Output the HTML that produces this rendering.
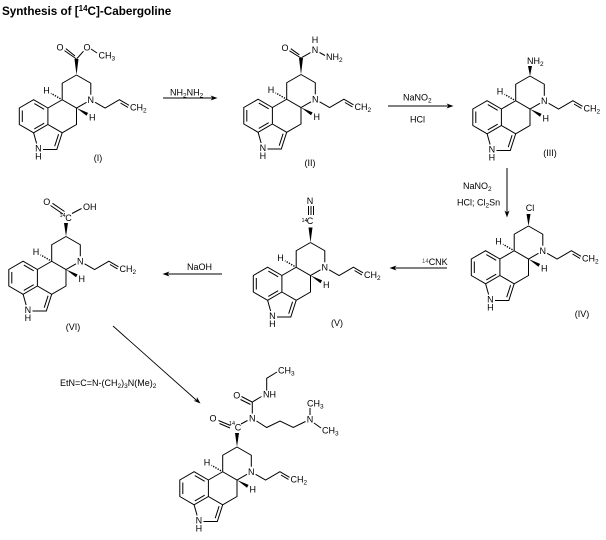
<!DOCTYPE html>
<html>
<head>
<meta charset="utf-8">
<style>
html,body{margin:0;padding:0;background:#fff;}
svg{display:block;}
text{font-family:"Liberation Sans",Arial,sans-serif;fill:#000;}
</style>
</head>
<body>
<svg width="606" height="540" viewBox="0 0 606 540" xmlns="http://www.w3.org/2000/svg" font-size="9">
<rect width="606" height="540" fill="#fff"/>
<defs>
<g id="core">
<g fill="none" stroke="#000" stroke-width="1">
<path d="M0,0 L14.3,8.25 L14.3,19.8 M10,27.3 L0,33 L-14.3,24.75 L-14.3,8.25 L0,0"/>
<path d="M0,33 L0,49.5 L-14.3,57.75 L-28.6,49.5 L-28.6,33 L-14.3,24.75"/>
<path d="M-28.6,33 L-42.9,24.75 L-57.2,33 L-57.2,49.5 L-42.9,57.75 L-28.6,49.5"/>
<path d="M-42.9,57.75 L-39.9,68.5 M-33.5,74.5 L-19.7,74.5 L-14.3,57.75"/>
<path d="M-32.3,34.35 L-42.2,28.6 M-54.2,35.5 L-54.2,47 M-42.2,53.9 L-32.3,48.15 M-17.9,59.2 L-21.8,71.2"/>
<path d="M18.6,27.3 L28.6,33 L42.9,24.75 L52.5,30.3 M44,28 L51.5,32.4"/>
<path d="M-16,23.8 L-25.5,18.3" stroke-dasharray="1.3,1.3" stroke-width="1.4"/>
</g>
<polygon points="0,33 11.6,37.9 10,40.7" fill="#000"/>
</g>
</defs>

<!-- Title -->
<text x="2" y="15" font-size="11.7" font-weight="bold">Synthesis of [<tspan font-size="8" dy="-4">14</tspan><tspan dy="4">C]-Cabergoline</tspan></text>

<!-- Compound I -->
<g transform="translate(76.5,75)">
<use href="#core"/>
<g text-anchor="middle">
<text x="14.3" y="28">N</text>
<text x="-30" y="18.5">H</text>
<text x="15.8" y="45.3">H</text>
<text x="-38.2" y="76.5">N</text>
<text x="-38.2" y="84.5">H</text>
<text x="-16.5" y="-24.3">O</text>
<text x="10.5" y="-24.3">O</text>
</g>
<text x="53.5" y="35.3">CH<tspan font-size="6.5" dy="2">2</tspan></text>
<polygon points="0,0 2,-16 -2,-16" fill="#000"/>
<path d="M0,-16 L-12,-24.4 M-1.5,-19 L-10.6,-26.4 M0.5,-16.5 L7,-23.8 M14.5,-26 L20.5,-22" stroke="#000" fill="none"/>
<text x="22" y="-16.5">CH<tspan font-size="6.5" dy="2">3</tspan></text>
</g>
<text x="98" y="161" text-anchor="middle">(I)</text>

<!-- Arrow NH2NH2 -->
<line x1="163" y1="98" x2="216" y2="98" stroke="#000"/>
<polygon points="217.5,98 210.5,95.5 212.5,98 210.5,100.5" fill="#000"/>
<text x="170" y="95.5">NH<tspan font-size="6.5" dy="2">2</tspan><tspan dy="-2">NH</tspan><tspan font-size="6.5" dy="2">2</tspan></text>

<!-- Compound II -->
<g transform="translate(301,74.5)">
<use href="#core"/>
<g text-anchor="middle">
<text x="14.3" y="28">N</text>
<text x="-30" y="18.5">H</text>
<text x="15.8" y="45.3">H</text>
<text x="-38.2" y="76.5">N</text>
<text x="-38.2" y="84.5">H</text>
<text x="-16" y="-23.3">O</text>
<text x="14" y="-21.3">N</text>
<text x="14" y="-31.3">H</text>
</g>
<text x="53.5" y="35.3">CH<tspan font-size="6.5" dy="2">2</tspan></text>
<polygon points="0,0 2,-16.5 -2,-16.5" fill="#000"/>
<path d="M0,-16.5 L-11.5,-23.7 M-1.7,-19.7 L-10.2,-25.8 M0.5,-16.8 L9.5,-21.9 M18.5,-22 L24,-19" stroke="#000" fill="none"/>
<text x="25" y="-14.5">NH<tspan font-size="6.5" dy="2">2</tspan></text>
</g>
<text x="310" y="166" text-anchor="middle">(II)</text>

<!-- Arrow NaNO2 HCl -->
<line x1="388" y1="106" x2="452" y2="106" stroke="#000"/>
<polygon points="453.5,106 446.5,103.5 448.5,106 446.5,108.5" fill="#000"/>
<text x="403" y="100.5">NaNO<tspan font-size="6.5" dy="2">2</tspan></text>
<text x="410" y="122.5">HCl</text>

<!-- Compound III -->
<g transform="translate(530,76)">
<use href="#core"/>
<g text-anchor="middle">
<text x="14.3" y="28">N</text>
<text x="-30" y="18.5">H</text>
<text x="15.8" y="45.3">H</text>
<text x="-38.2" y="76.5">N</text>
<text x="-38.2" y="84.5">H</text>
</g>
<text x="53.5" y="35.3">CH<tspan font-size="6.5" dy="2">2</tspan></text>
<polygon points="0,0 2,-10 -2,-10" fill="#000"/>
<text x="-3" y="-12">NH<tspan font-size="6.5" dy="2">2</tspan></text>
</g>
<text x="550" y="156" text-anchor="middle">(III)</text>

<!-- Arrow down -->
<line x1="507" y1="168" x2="507" y2="216" stroke="#000"/>
<polygon points="507,217.5 504.5,210.5 507,212.5 509.5,210.5" fill="#000"/>
<text x="463" y="189">NaNO<tspan font-size="6.5" dy="2">2</tspan></text>
<text x="457" y="205.5">HCl; Cl<tspan font-size="6.5" dy="2">2</tspan><tspan dy="-2">Sn</tspan></text>

<!-- Compound IV -->
<g transform="translate(528.5,226)">
<use href="#core"/>
<g text-anchor="middle">
<text x="14.3" y="28">N</text>
<text x="-30" y="18.5">H</text>
<text x="15.8" y="45.3">H</text>
<text x="-38.2" y="76.5">N</text>
<text x="-38.2" y="84.5">H</text>
<text x="1.5" y="-15">Cl</text>
</g>
<text x="53.5" y="35.3">CH<tspan font-size="6.5" dy="2">2</tspan></text>
<polygon points="0,0 2,-12 -2,-12" fill="#000"/>
</g>
<text x="582" y="317" text-anchor="middle">(IV)</text>

<!-- Arrow 14CNK -->
<line x1="391" y1="268" x2="447" y2="268" stroke="#000"/>
<polygon points="389.5,268 396.5,265.5 394.5,268 396.5,270.5" fill="#000"/>
<text x="422" y="265"><tspan font-size="6" dy="-2" fill="#555">14</tspan><tspan dy="2">CNK</tspan></text>

<!-- Compound V -->
<g transform="translate(310.5,242.5)">
<use href="#core"/>
<g text-anchor="middle">
<text x="14.3" y="28">N</text>
<text x="-30" y="18.5">H</text>
<text x="15.8" y="45.3">H</text>
<text x="-38.2" y="76.5">N</text>
<text x="-38.2" y="84.5">H</text>
<text x="-0.5" y="-18.5">C</text>
<text x="-0.5" y="-38.7">N</text>
</g>
<text x="-9" y="-20.5" font-size="5.5" fill="#777">14</text>
<text x="53.5" y="35.3">CH<tspan font-size="6.5" dy="2">2</tspan></text>
<polygon points="0,0 2,-15 -2,-15" fill="#000"/>
<path d="M-2,-36.5 L-2,-27.5 M0.5,-36.5 L0.5,-27.5 M3,-36.5 L3,-27.5" stroke="#000" fill="none"/>
</g>
<text x="337" y="326" text-anchor="middle">(V)</text>

<!-- Arrow NaOH -->
<line x1="164" y1="274" x2="222" y2="274" stroke="#000"/>
<polygon points="162.5,274 169.5,271.5 167.5,274 169.5,276.5" fill="#000"/>
<text x="187" y="270">NaOH</text>

<!-- Compound VI -->
<g transform="translate(66,236.5)">
<use href="#core"/>
<g text-anchor="middle">
<text x="14.3" y="28">N</text>
<text x="-30" y="18.5">H</text>
<text x="15.8" y="45.3">H</text>
<text x="-38.2" y="76.5">N</text>
<text x="-38.2" y="84.5">H</text>
<text x="2.5" y="-15.5">C</text>
<text x="-19.3" y="-31.6">O</text>
</g>
<text x="-6.5" y="-19.5" font-size="5.5" fill="#777">14</text>
<text x="17" y="-26.6">OH</text>
<text x="53.5" y="35.3">CH<tspan font-size="6.5" dy="2">2</tspan></text>
<polygon points="0,0 2,-13.5 -2,-13.5" fill="#000"/>
<path d="M-3,-22.5 L-15.5,-31 M-1.5,-25 L-13.5,-33.2 M6,-23 L15.5,-28" stroke="#000" fill="none"/>
</g>
<text x="73" y="330" text-anchor="middle">(VI)</text>

<!-- Diagonal arrow -->
<line x1="113" y1="326" x2="199" y2="402.5" stroke="#000" stroke-width="0.9"/>
<polygon points="200.5,403.5 193.6,400.7 196.75,400.2 196.9,397.0" fill="#000"/>
<text x="60" y="386">EtN=C=N-(CH<tspan font-size="6.5" dy="2">2</tspan><tspan dy="-2">)</tspan><tspan font-size="6.5" dy="2">3</tspan><tspan dy="-2">N(Me)</tspan><tspan font-size="6.5" dy="2">2</tspan></text>

<!-- Product -->
<g transform="translate(237,447)">
<use href="#core"/>
<g text-anchor="middle">
<text x="14.3" y="28">N</text>
<text x="-30" y="18.5">H</text>
<text x="15.8" y="45.3">H</text>
<text x="-38.2" y="76.5">N</text>
<text x="-38.2" y="84.5">H</text>
</g>
<text x="53.5" y="35.3">CH<tspan font-size="6.5" dy="2">2</tspan></text>
<polygon points="0,0 2,-14 -2,-14" fill="#000"/>
</g>
<g text-anchor="middle">
<text x="238" y="430.5">C</text>
<text x="213" y="421.5">O</text>
<text x="252.3" y="421.5">N</text>
<text x="236.7" y="398.5">O</text>
<text x="310" y="422.7">N</text>
</g>
<text x="229" y="425" font-size="5.5" fill="#777">14</text>
<text x="263" y="397.5">NH</text>
<text x="278" y="373.3">CH<tspan font-size="6.5" dy="2">3</tspan></text>
<text x="307" y="406.5">CH<tspan font-size="6.5" dy="2">3</tspan></text>
<text x="322" y="433.3">CH<tspan font-size="6.5" dy="2">3</tspan></text>
<path d="M218.5,420.5 L230.5,425.5 M219.5,423.5 L230,428 M241,424 L247.5,420.5 M252.3,413.5 L252.3,402 M252,402 L241.5,396.5 M250.5,404.5 L240.5,399.5 M252.3,402 L261.5,396.5 M266.7,390.5 L266.7,378.3 L277,372 M256.5,421 L266.7,427.5 L280,421 L293.3,427.5 L305.5,421.5 M310,415 L310,408 M314,423 L321,428" stroke="#000" fill="none"/>
</svg>
</body>
</html>
